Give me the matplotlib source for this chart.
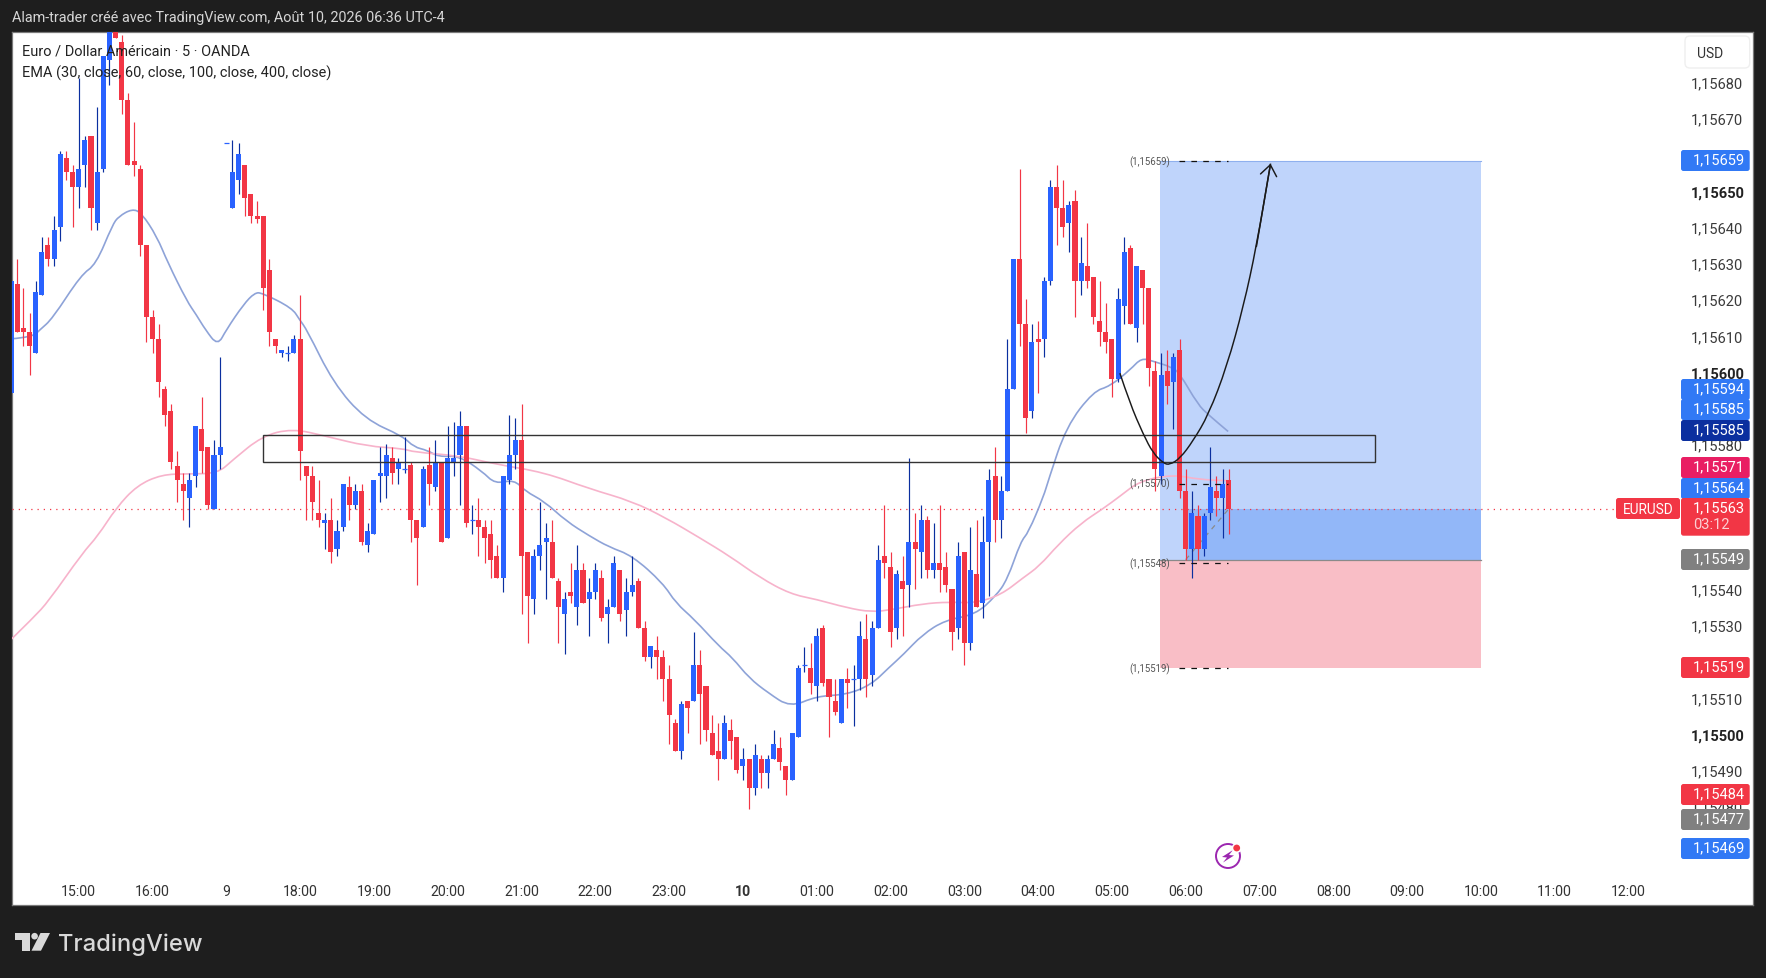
import numpy as np
import matplotlib
matplotlib.use("Agg")
import matplotlib.pyplot as plt
from matplotlib.patches import Rectangle, FancyBboxPatch, Polygon, Circle, PathPatch
from matplotlib.path import Path
from matplotlib.transforms import ScaledTranslation

plt.rcParams['font.family'] = ['Roboto', 'DejaVu Sans']

# ---------- data: prices in points above 1.15000 (563 = 1,15563) ----------
first_index = -11
dirs = ("brrrbbrbbr" "rbbrbbbrrr" "rrrrrrrrrb" "brrbbbbbrr" "rrrrbbbrrr"
        "rbrbbrbrbb" "bbrbbrrbrb" "rbbbrbrrrr" "bbbrrbbbrr" "brbrbbrbbr"
        "bbrrbrrrrb" "rbrrrrbrrb" "rbrbbrrbbb" "rbrrrbrbbr" "bbrrbrbrbr"
        "brrrbrbrbb" "rbbbrrbrbb" "rrbrbrrrrr" "bbrbrrrbrb" "rrbrbbrbr")
body_tops = [
    626,625,613,612,623,634,636,640,661,660, 656,657,665,666,656,688,703,703,692,676,
    659,657,636,616,610,596,590,575,570,571, 586,585,580,578,580,664,656,661,658,650,
    644,644,629,610,607,606,610,610,575,572, 562,560,560,557,570,569,568,568,557,571,
    573,578,577,576,574,575,560,574,575,576, 576,577,577,586,586,560,560,558,556,550,
    572,578,582,582,551,550,553,555,554,543, 538,540,546,546,540,546,544,536,548,546,
    540,542,543,530,525,524,522,516,504,509, 510,520,520,514,501,496,504,502,500,494,
    494,495,494,494,498,497,492,501,519,520, 519,528,530,516,510,516,516,516,528,527,
    530,549,550,547,545,543,554,554,560,560, 548,548,547,541,550,551,546,545,554,571,
    572,568,596,632,632,614,609,610,626,652, 652,646,647,648,631,630,627,615,612,610,
    621,634,635,630,629,624,601,600,601,605, 607,568,562,561,561,569,568,570,571]
body_bottoms = [
    595,612,612,608,606,622,632,632,641,656, 652,652,658,646,642,657,687,693,676,658,
    658,636,616,610,598,589,576,571,568,566, 572,579,564,563,578,664,646,654,649,644,
    643,624,612,608,606,606,606,579,572,565, 560,559,551,552,558,564,564,554,553,556,
    572,572,573,574,574,560,555,558,570,569, 554,555,576,578,559,560,558,555,549,544,
    544,571,578,550,539,538,550,554,544,536, 534,539,536,537,538,540,533,534,536,534,
    535,540,530,522,522,522,516,506,496,496, 508,510,512,502,495,494,494,499,491,492,
    486,486,490,490,494,493,488,488,500,520, 515,514,515,511,507,504,515,516,516,516,
    517,530,548,529,530,541,542,552,551,546, 546,546,542,529,530,526,526,536,537,554,
    560,560,568,596,614,588,590,609,610,626, 646,641,642,626,626,626,616,612,609,599,
    599,619,614,613,624,602,574,572,597,598, 568,552,552,552,552,562,566,566,563]
highs = [
    626,632,624,617,626,638,638,644,662,662, 658,682,666,666,674,688,708,708,694,678,
    670,658,636,618,614,597,592,579,573,573, 586,594,580,582,605,664,665,664,658,650,
    648,644,632,610,607,608,611,622,575,575, 571,562,566,560,570,572,570,570,559,571,
    580,581,580,577,583,576,560,575,580,582, 576,586,587,590,586,564,566,560,560,553,
    572,589,588,592,551,552,565,559,560,544, 540,548,553,548,544,548,546,538,550,546,
    544,550,544,532,525,528,524,520,505,510, 510,529,524,514,506,504,506,505,500,497,
    494,498,495,495,502,500,492,501,520,525, 526,530,531,516,516,516,519,520,532,534,
    532,553,564,551,546,550,577,562,564,561, 559,564,551,541,554,551,558,560,561,574,
    580,572,610,632,657,621,614,615,627,654, 658,654,648,651,638,642,627,626,620,610,
    624,638,636,630,629,624,604,606,607,606, 610,574,568,564,562,580,572,574,574]
lows = [
    595,612,608,600,606,622,630,630,637,654, 641,646,652,640,640,656,680,693,672,658,
    655,633,609,606,594,586,574,565,560,558, 569,573,563,563,574,664,646,650,644,642,
    642,618,608,606,605,604,606,571,560,560, 558,552,548,550,557,560,563,553,551,556,
    565,566,570,570,573,554,542,558,564,568, 554,555,572,564,558,556,550,548,544,544,
    540,570,574,534,526,534,546,538,544,526, 523,537,531,537,528,538,532,526,536,532,
    528,539,530,521,519,516,510,498,496,494, 501,510,498,499,495,488,494,494,490,488,
    480,484,486,486,494,491,484,488,500,518, 512,510,514,500,506,504,508,503,513,511,
    514,530,544,525,527,528,536,541,544,544, 544,540,540,524,527,520,524,536,533,539,
    554,555,568,596,608,584,588,595,605,625, 636,638,634,616,622,624,614,608,606,594,
    598,614,614,609,614,597,568,570,592,585, 566,549,544,549,550,560,561,555,556]

ema_fast_i = [-10.9,-7.5,-6.3,-4.3,0.4,2.8,5.5,6.5,8.7,10.2,12.7,14.5,17.6,19.1,20.6,22.6,24,26.8,28.6,29.8,
              34.7,35.9,37.1,41.4,46.6,52.7,54.5,56.7,58.5,61.8,65.6,67.7,70.8,72.6,75.7,79.3,83,86.2,90,95,
              97.1,100.1,104.1,106.3,109,112.1,115.7,120,124.9,128.9,131.7,134.1,137.2,140.9,145.8,149.1,151,
              153.2,154.4,156.9,157.7,160.6,165,167.7,171,172.8,174.7,177.7,179,182,183.7,186.9]
ema_fast = [610,610.5,612.5,615.5,627.7,630.5,641.5,643.8,645.9,644.8,638.3,631,620.4,616.7,612.5,608.1,612.5,619.5,622.7,622.7,
            618.5,615.3,612.5,597.8,587.7,583.1,580.1,579.2,577.4,577.7,573.4,569.9,571.1,567.9,565.1,559.6,555.6,552.5,550.1,542.5,
            537,532.5,525.1,521.9,516.3,512.2,508.2,511.3,511.7,514.5,519.1,522.8,528.3,532.3,533.8,538.9,543.5,
            554.1,556.4,566.5,571.1,585.8,595.5,596.9,601.5,604.7,603.8,602.2,600.5,591.8,589,584.4]
ema_slow_i = [-10.9,-7.4,-4.9,0.6,3.1,6.1,9.5,13.5,17.7,22.6,25.1,29.8,34.7,40.2,46.9,52.7,54.5,61.8,67.7,75.7,83,90,
              95.5,101,105.9,110.8,115.7,120,124.9,128.9,132.3,137.2,141.5,145.8,150,153.5,156.2,159.3,163,166.5,169.3,
              172.5,177.9,182.3,186.9]
ema_slow = [527.1,532.9,537.5,550.8,555.5,563.3,569.5,572.5,572.7,572.8,576.6,583.1,585.2,583.1,580.3,579.7,578.7,577.7,575.4,573.1,568.6,565.1,
            560.5,555,549.9,544,539.5,538,535.7,534.5,535.2,536.8,537.3,537,539.3,543.9,547.2,553.2,559.1,563,566.5,
            570.7,572.5,571.1,570.8]

curve_i = [169.3,170.9,173.1,174.7,176.4,177.4,179.1,181.2,183.7,186.7,189.4,191.5,193.8]
curve_p = [600.5,592.3,583.6,578.4,575.6,575.2,577,581.8,589,602.4,619,635.5,658.4]

time_labels = ['15:00','16:00','9','18:00','19:00','20:00','21:00','22:00','23:00','10','01:00','02:00',
               '03:00','04:00','05:00','06:00','07:00','08:00','09:00','10:00','11:00','12:00']
bold_times = ['10']
price_ticks = list(range(470, 690, 10))
bold_prices = [500, 550, 600, 650]

last_price = 563
target_price, entry_price, stop_price = 659, 549, 519
zone_top, zone_bottom = 583.3, 576
level_labels = [659, 570, 548, 519]

badge_texts = ['1,15659','1,15594','1,15585','1,15585','1,15571','1,15564','1,15549','1,15519','1,15484','1,15477','1,15469']
badge_colors = ['#3179f5','#3179f5','#3179f5','#0b2f9f','#e91e63','#3179f5','#808080','#f23645','#f23645','#808080','#3179f5']
badge_tops = [151, 380, 400, 421, 458, 479, 550, 658, 785, 810, 839]

# ---------- layout (pixels of the 1766x979 picture) ----------
W, H = 1766, 979
P_L, P_R, P_T, P_B = 12, 1680, 33, 874
X0, DX = 78.7, 6.15          # pixel of candle 0, pixels per candle
Y600, DY = 376.0, 3.62       # pixel of 1,15600, pixels per point
BG = '#1e1e1e'

fig = plt.figure(figsize=(W/100, H/100), dpi=100, facecolor=BG)
def rect(l, t, r, b):
    return [l/W, 1-b/H, (r-l)/W, (b-t)/H]

def smooth(xs, ys):
    """Path through the read points, rounded with quadratic segments."""
    verts, codes = [(xs[0], ys[0])], [Path.MOVETO]
    for k in range(1, len(xs)-1):
        verts += [(xs[k], ys[k]), ((xs[k]+xs[k+1])/2, (ys[k]+ys[k+1])/2)]
        codes += [Path.CURVE3, Path.CURVE3]
    verts.append((xs[-1], ys[-1])); codes.append(Path.LINETO)
    return Path(verts, codes)

back = fig.add_axes(rect(12, 33, 1753, 906), zorder=0, facecolor='white')
back.set_xticks([]); back.set_yticks([])
for s in back.spines.values():
    s.set_color('#7a7a7a'); s.set_linewidth(0.9)

ax = fig.add_axes(rect(P_L, P_T, P_R, P_B), zorder=2)
ax.patch.set_alpha(0)
for s in ax.spines.values():
    s.set_visible(False)
ax.set_xlim((P_L-X0)/DX, (P_R-X0)/DX)
ax.set_ylim(600-(P_B-Y600)/DY, 600+(Y600-P_T)/DY)

idx = np.arange(first_index, first_index+len(dirs))
top, bot, hi, lo = map(np.array, (body_tops, body_bottoms, highs, lows))
up = np.array([d == 'b' for d in dirs])
BLUE, NAVY, RED = '#2962ff', '#0b2f9f', '#f23645'

# position tool
pos_l, pos_r = (1160-X0)/DX, (1481-X0)/DX
ax.fill_between([pos_l, pos_r], entry_price, target_price, color='#bfd4fb', lw=0, zorder=1)
ax.fill_between([pos_l, pos_r], stop_price, entry_price, color='#f9bec6', lw=0, zorder=1)
ax.fill_between([180, pos_r], entry_price, last_price, color='#92b7f8', lw=0, zorder=1.1)
ax.plot([pos_l, pos_r], [entry_price]*2, color='#8a8a8a', lw=0.9, zorder=1.2)
ax.plot([pos_l, pos_r], [target_price]*2, color='#8fb0ee', lw=0.8, zorder=1.2)
ax.plot([180, 187], [entry_price, last_price], color='#8a8a8a', lw=0.9, ls=(0, (4, 4)), zorder=1.2)

# last price line
ax.plot([ax.get_xlim()[0], (1616-X0)/DX], [last_price]*2, color=RED, lw=0.9, ls=(0, (1, 4)), zorder=1.5)

# EMAs
ax.add_patch(PathPatch(smooth(ema_fast_i, ema_fast), fill=False, ec='#8ea3d8', lw=1.2, zorder=2))
ax.add_patch(PathPatch(smooth(ema_slow_i, ema_slow), fill=False, ec='#f7b3cb', lw=1.2, zorder=2))

# candles
ax.vlines(idx[up], lo[up], hi[up], color=NAVY, lw=0.85, zorder=3)
ax.vlines(idx[~up], lo[~up], hi[~up], color=RED, lw=0.85, zorder=3)
solid = top > bot
ax.bar(idx[up & solid], (top-bot)[up & solid], 0.82, bot[up & solid], color=BLUE, lw=0, zorder=3.1)
ax.bar(idx[~up & solid], (top-bot)[~up & solid], 0.82, bot[~up & solid], color=RED, lw=0, zorder=3.1)
doji = ~solid
ax.hlines(top[doji], idx[doji]-0.41, idx[doji]+0.41, color=BLUE, lw=0.9, zorder=3.1)

# zone and curve
ax.add_patch(Rectangle(((263.4-X0)/DX, zone_bottom), (1375.3-263.4)/DX, zone_top-zone_bottom,
                       fill=False, ec='#333333', lw=1.0, zorder=4))
ax.add_patch(PathPatch(smooth(curve_i, curve_p), fill=False, ec='#1a1a1a', lw=1.05, zorder=5))
ax.annotate('', xy=(curve_i[-1], curve_p[-1]), xytext=(curve_i[-2], curve_p[-2]),
            arrowprops=dict(arrowstyle='->,head_length=0.55,head_width=0.42', color='#1a1a1a', lw=1.05,
                            mutation_scale=14, shrinkA=0, shrinkB=0), zorder=5)

# level labels
for v in level_labels:
    ax.plot([(1179-X0)/DX, (1228-X0)/DX], [v, v], color='#111111', lw=0.9, ls=(0, (4.5, 5)), zorder=5)
    ax.text((1170-X0)/DX, v, f'(1,15{v})', ha='right', va='center', fontsize=6.9, color='#555555', zorder=6)

# axes ticks
ax.yaxis.tick_right()
ax.set_yticks(price_ticks)
ax.set_yticklabels([f'1,15{p}' for p in price_ticks])
ax.tick_params(axis='y', length=0, pad=8.0, labelsize=10.5, labelcolor='#3a3a3a')
up_shift = ScaledTranslation(0, 2.4/72, fig.dpi_scale_trans)
for lab, p in zip(ax.get_yticklabels(), price_ticks):
    lab.set_transform(lab.get_transform() + up_shift)
    if p in bold_prices:
        lab.set_fontweight('bold'); lab.set_color('#222222')
ax.set_xticks(np.arange(len(time_labels))*12)
ax.set_xticklabels(time_labels)
ax.tick_params(axis='x', length=0, pad=7.8, labelsize=10.2, labelcolor='#333333')
for lab in ax.get_xticklabels():
    if lab.get_text() in bold_times:
        lab.set_fontweight('bold')

# overlay in pixels
ov = fig.add_axes([0, 0, 1, 1], zorder=3)
ov.set_xlim(0, W); ov.set_ylim(H, 0); ov.axis('off'); ov.patch.set_alpha(0)

ov.text(12, 18, 'Alam-trader créé avec TradingView.com, Août 10, 2026 06:36 UTC-4', color='#d6d6d6',
        fontsize=10.4, va='center')
ov.text(22.5, 51, 'Euro / Dollar Américain · 5 · OANDA', color='#222222', fontsize=10.45, va='center')
ov.text(22.5, 73.5, 'EMA (30, close, 60, close, 100, close, 400, close)', color='#222222', fontsize=10.42, va='center')

def box(l, t, r, b, fc, ec='none', rs=2.5, lw=0, z=2):
    ov.add_patch(FancyBboxPatch((l, t), r-l, b-t, boxstyle=f'round,pad=0,rounding_size={rs}',
                                fc=fc, ec=ec, lw=lw, zorder=z))

box(1685, 37, 1749.7, 69, 'white', '#efefef', 5, 1)
ov.text(1697, 54, 'USD', fontsize=10, color='#333333', va='center', zorder=3)

for txt, col, t in zip(badge_texts, badge_colors, badge_tops):
    box(1681, t, 1749.7, t+21, col)
    ov.text(1692.7, t+9.5, txt, color='white', fontsize=10.5, va='center', zorder=3)
box(1681, 499, 1749.7, 536.7, RED)
ov.text(1692.7, 508, '1,15563', color='white', fontsize=10.5, va='center', zorder=3)
ov.text(1692.7, 525.5, '03:12', color='#fbd0d4', fontsize=10.5, va='center', zorder=3)
box(1616, 499, 1680, 520, RED)
ov.text(1648, 509.5, 'EURUSD', color='white', fontsize=9.8, va='center', ha='center', zorder=3)

# lightning icon
PURPLE = '#9c27b0'
ov.add_patch(Circle((1228, 857), 12, fill=False, ec=PURPLE, lw=1.4, zorder=3))
ov.add_patch(Polygon([(1233, 851), (1222, 858), (1227, 858.5), (1223, 863.5), (1234, 856.5), (1229, 856)],
                     closed=True, fc=PURPLE, ec='none', zorder=3))
ov.add_patch(Circle((1236.7, 849), 5, fc='white', ec='none', zorder=3.1))
ov.add_patch(Circle((1236.7, 849), 3.4, fc=RED, ec='none', zorder=3.2))

# TradingView logo
LOGO = '#d9d9d9'
ov.add_patch(Polygon([(14.5, 934), (30, 934), (30, 951.7), (21.5, 951.7), (21.5, 941), (14.5, 941)],
                     closed=True, fc=LOGO, ec='none'))
ov.add_patch(Circle((34.6, 937.2), 3.3, fc=LOGO, ec='none'))
ov.add_patch(Polygon([(40.5, 934), (50, 934), (41, 951.7), (31.5, 951.7)], closed=True, fc=LOGO, ec='none'))
ov.text(58, 945, 'TradingView', color=LOGO, fontsize=17.1, va='center', family=['Inter', 'DejaVu Sans'], fontweight='medium')

fig.savefig('out.png', dpi=100, facecolor=BG)
